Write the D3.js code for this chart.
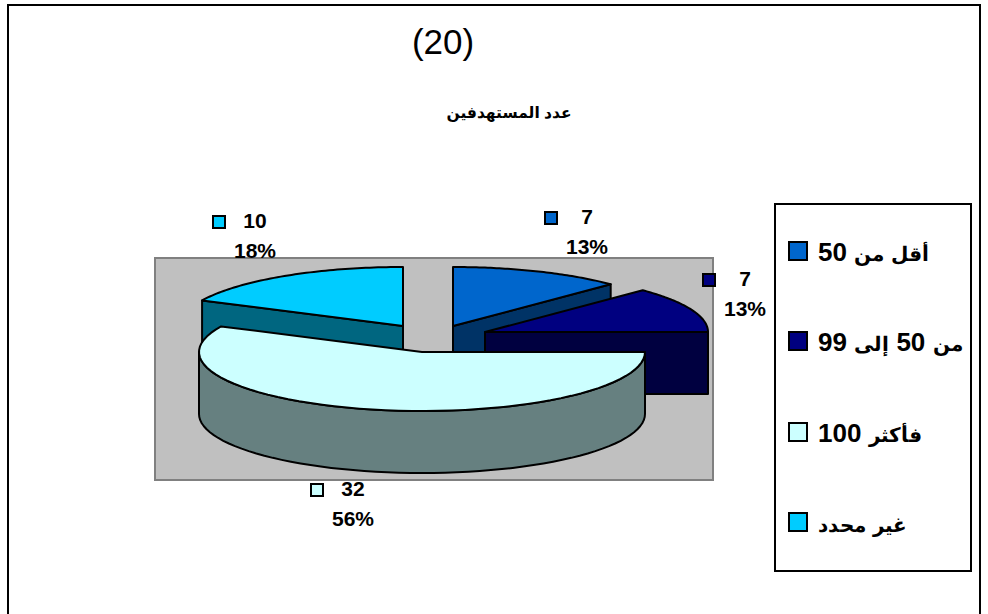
<!DOCTYPE html>
<html>
<head>
<meta charset="utf-8">
<script src="https://cdn.jsdelivr.net/npm/d3@7"></script>
<style>
@font-face{font-family:"ArSmall";src:local("DejaVu Sans Bold");font-weight:bold;unicode-range:U+0600-06FF,U+FE70-FEFF;size-adjust:78%}
html,body{margin:0;padding:0;background:#fff;overflow:hidden}
svg{display:block}
text{font-family:"Liberation Sans","DejaVu Sans",sans-serif;fill:#000}
text.leg{font-family:"ArSmall","Liberation Sans","DejaVu Sans",sans-serif}
</style>
</head>
<body>
<svg id="c" width="988" height="614"></svg>
<script>
const categories = ["أقل من 50", "من 50 إلى 99", "فأكثر 100", "غير محدد"];
const values = [7, 7, 32, 10];
const percents = ["13%", "13%", "56%", "18%"];
const topColors = ["#0066CC", "#000080", "#CCFFFF", "#00CCFF"];
const wallColors = ["#003366", "#000040", "#668080", "#006680"];
const chartNumber = "(20)";
const chartTitle = "عدد المستهدفين";

// layout
const W = 988, H = 614;
const rx = 223, ry = 59, depth = 62;
const apex = [[453,326],[485,332],[422,352],[403,326]];
const labelPos = [[587,218],[745,280],[353,490],[255,222]];
const labelMark = [[545,212],[703,274],[311,484],[213,216]];
const legendY = [251,341,432,522];

const svg = d3.select("#c");

svg.append("rect").attr("x",8).attr("y",5).attr("width",972).attr("height",H+20)
  .attr("fill","#fff").attr("stroke","#000").attr("stroke-width",2);

svg.append("text").attr("x",443).attr("y",54).attr("text-anchor","middle")
  .attr("font-size",35).text(chartNumber);
svg.append("text").attr("x",509).attr("y",118).attr("text-anchor","middle")
  .attr("font-size",15.5).attr("font-weight","bold").attr("direction","rtl").text(chartTitle);

// plot area
svg.append("rect").attr("x",155).attr("y",258).attr("width",558).attr("height",222)
  .attr("fill","#C0C0C0").attr("stroke","#808080").attr("stroke-width",2);

const arcs = d3.pie().sort(null).value(d=>d).startAngle(0).endAngle(2*Math.PI)(values);
const pt = (i,a,dz=0)=>[apex[i][0]+rx*Math.sin(a), apex[i][1]-ry*Math.cos(a)+dz];
const line = d3.line();
const samples = (a0,a1)=>d3.range(0,61).map(k=>a0+(a1-a0)*k/60);

function topPath(i){
  const d=arcs[i];
  return line([apex[i],...samples(d.startAngle,d.endAngle).map(a=>pt(i,a))])+"Z";
}
function outerWall(i,a0,a1){
  const up=samples(a0,a1).map(a=>pt(i,a));
  const dn=samples(a1,a0).map(a=>pt(i,a,depth));
  return line([...up,...dn])+"Z";
}
function radialWall(i,a){
  return line([apex[i],pt(i,a),pt(i,a,depth),[apex[i][0],apex[i][1]+depth]])+"Z";
}
const stroke = s=>s.attr("stroke","#000").attr("stroke-width",2).attr("stroke-linejoin","round");
const g = svg.append("g");

// painter's order: back slices first
[3,0,1,2].forEach(i=>{
  const d=arcs[i];
  if(i===3) g.append("path").attr("d",radialWall(i,d.startAngle)).attr("fill",wallColors[i]).call(stroke);
  if(i===0 || i===1) g.append("path").attr("d",radialWall(i,d.endAngle)).attr("fill",wallColors[i]).call(stroke);
  if(i===2) g.append("path").attr("d",outerWall(i,d.startAngle,Math.min(d.endAngle,3*Math.PI/2))).attr("fill",wallColors[i]).call(stroke);
  g.append("path").attr("d",topPath(i)).attr("fill",topColors[i]).call(stroke);
});

// data labels
values.forEach((v,i)=>{
  svg.append("rect").attr("x",labelMark[i][0]).attr("y",labelMark[i][1]).attr("width",12).attr("height",12)
    .attr("fill",topColors[i]).attr("stroke","#000").attr("stroke-width",2);
  svg.append("text").attr("x",labelPos[i][0]).attr("y",labelPos[i][1]+6).attr("text-anchor","middle")
    .attr("font-size",21).attr("font-weight","bold").text(v);
  svg.append("text").attr("x",labelPos[i][0]).attr("y",labelPos[i][1]+36).attr("text-anchor","middle")
    .attr("font-size",21).attr("font-weight","bold").text(percents[i]);
});

// legend
svg.append("rect").attr("x",775).attr("y",204).attr("width",196).attr("height",367)
  .attr("fill","#fff").attr("stroke","#000").attr("stroke-width",2);
categories.forEach((c,i)=>{
  svg.append("rect").attr("x",789).attr("y",legendY[i]-9).attr("width",18).attr("height",18)
    .attr("fill",topColors[i]).attr("stroke","#000").attr("stroke-width",2);
  svg.append("text").attr("class","leg").attr("x",818).attr("y",legendY[i]+10).attr("text-anchor","end")
    .attr("direction","rtl").attr("font-size",26).attr("font-weight","bold").text(c);
});
</script>
</body>
</html>
